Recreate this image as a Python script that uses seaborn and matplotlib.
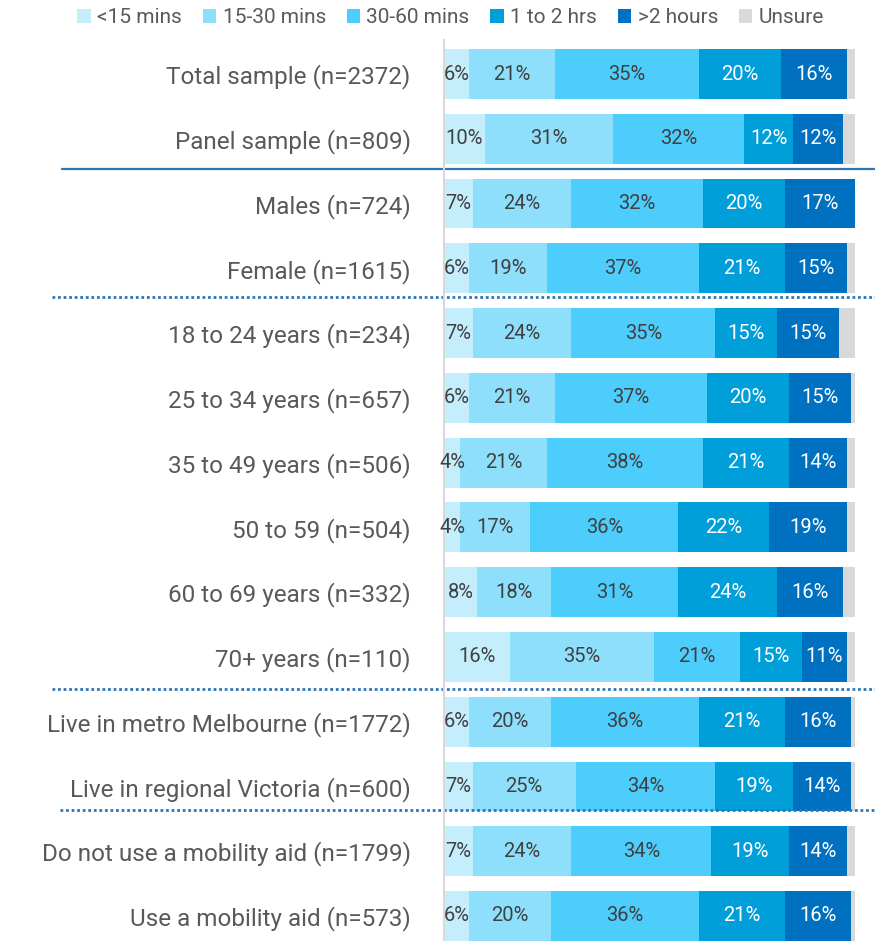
import pandas as pd
import seaborn as sns
import matplotlib.pyplot as plt
from matplotlib.patches import Patch
from matplotlib.transforms import blended_transform_factory

# groups (top to bottom)
groups = ["Total sample (n=2372)", "Panel sample (n=809)", "Males (n=724)",
          "Female (n=1615)", "18 to 24 years (n=234)", "25 to 34 years (n=657)",
          "35 to 49 years (n=506)", "50 to 59 (n=504)", "60 to 69 years (n=332)",
          "70+ years (n=110)", "Live in metro Melbourne (n=1772)",
          "Live in regional Victoria (n=600)", "Do not use a mobility aid (n=1799)",
          "Use a mobility aid (n=573)"]

series_names = ["<15 mins", "15-30 mins", "30-60 mins", "1 to 2 hrs", ">2 hours", "Unsure"]

under_15 = [6, 10, 7, 6, 7, 6, 4, 4, 8, 16, 6, 7, 7, 6]
m15_30 = [21, 31, 24, 19, 24, 21, 21, 17, 18, 35, 20, 25, 24, 20]
m30_60 = [35, 32, 32, 37, 35, 37, 38, 36, 31, 21, 36, 34, 34, 36]
h1_2 = [20, 12, 20, 21, 15, 20, 21, 22, 24, 15, 21, 19, 19, 21]
over_2h = [16, 12, 17, 15, 15, 15, 14, 19, 16, 11, 16, 14, 14, 16]
unsure = [2, 3, 1, 2, 4, 1, 2, 2, 3, 2, 1, 1, 2, 1]

colors = ["#C5EEFD", "#8EDFFC", "#4DCDFC", "#009FDA", "#0070C0", "#D9D9D9"]
label_colors = ["#404040", "#404040", "#404040", "white", "white", None]

df = pd.DataFrame({"group": groups, "<15 mins": under_15, "15-30 mins": m15_30,
                   "30-60 mins": m30_60, "1 to 2 hrs": h1_2, ">2 hours": over_2h,
                   "Unsure": unsure})
cum = df[series_names].cumsum(axis=1)

sns.set_style("white")
plt.rcParams['font.family'] = ['Roboto', 'DejaVu Sans']

fig = plt.figure(figsize=(8.75, 9.41), dpi=100)
ax = fig.add_axes([444 / 875, 0.0, 411 / 875, 1 - 40 / 941])

# stacked bars: draw cumulative totals from the right-most segment back
for name, col in reversed(list(zip(series_names, colors))):
    sns.barplot(x=cum[name], y=df["group"], orient="h", color=col,
                saturation=1, width=0.77, ax=ax, edgecolor="none")

# value labels
for k, name in enumerate(series_names):
    if label_colors[k] is None:
        continue
    for i in range(len(groups)):
        v = df[name][i]
        x = cum[name][i] - v / 2
        ax.text(x, i, f"{v}%", ha="center", va="center", fontsize=14.5,
                color=label_colors[k])

ax.set_xlim(0, 100)
ax.set_ylim(13.386, -0.525)
ax.set_xlabel("")
ax.set_ylabel("")
ax.set_xticks([])
ax.tick_params(axis="y", length=0, pad=24, labelsize=17.5, labelcolor="#595959")
for s in ["top", "right", "bottom"]:
    ax.spines[s].set_visible(False)
ax.spines["left"].set_color("#D9D9D9")
ax.spines["left"].set_linewidth(1.5)

# separator lines
tr = blended_transform_factory(fig.transFigure, ax.transData)
ax.plot([62 / 875, 1], [1.47, 1.47], color="#2E75B6", lw=1.6, transform=tr, clip_on=False)
ax.plot([52 / 875, 1], [3.45, 3.45], color="#2E75B6", lw=2, ls=(0, (1, 1)),
        transform=tr, clip_on=False)
ax.plot([52 / 875, 1], [9.5, 9.5], color="#2E75B6", lw=2, ls=(0, (1, 1)),
        transform=tr, clip_on=False)
ax.plot([60 / 875, 1], [11.36, 11.36], color="#2E75B6", lw=2, ls=(0, (1, 1)),
        transform=tr, clip_on=False)

handles = [Patch(facecolor=c, edgecolor="none") for c in colors]
fig.legend(handles, series_names, loc="center", bbox_to_anchor=(0.515, 0.981), ncol=6,
           frameon=False, fontsize=15, handlelength=0.65, handleheight=0.65,
           handletextpad=0.3, columnspacing=1.0, labelcolor="#595959")

fig.savefig("out.png", dpi=100)
